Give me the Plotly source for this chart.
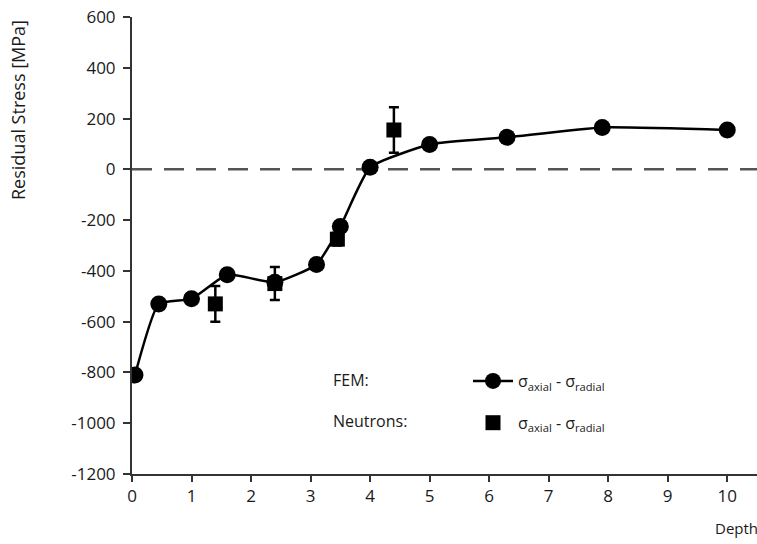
import plotly.graph_objects as go

# FEM data (circles)
fem_depth = [0.05, 0.45, 1.0, 1.6, 2.4, 3.1, 3.5, 4.0, 5.0, 6.3, 7.9, 10.0]
fem_stress = [-810, -530, -510, -415, -445, -375, -225, 8, 98, 126, 165, 155]

# Neutron data (squares) with error bars
neu_depth = [1.4, 2.4, 3.45, 4.4]
neu_stress = [-530, -450, -275, 155]
neu_err = [70, 65, 25, 90]

x_ticks = [0, 1, 2, 3, 4, 5, 6, 7, 8, 9, 10]
y_ticks = [600, 400, 200, 0, -200, -400, -600, -800, -1000, -1200]
y_tick_text = ["600", "400", "200", "0", "-200", "-400", "-600", "-800", "-1000", "-1200"]

FONT = "Open Sans"
INK = "#1a1a1a"

W, H = 757, 544
ml, mr, mt, mb = 132, 0, 17, 70
pw, ph = W - ml - mr, H - mt - mb


def px(x, y):
    return (x - ml) / pw, 1 - (y - mt) / ph


fig = go.Figure()

# zero reference line
fig.add_trace(go.Scatter(
    x=[0, 10.5], y=[0, 0], mode="lines",
    line=dict(color="#555555", width=2.5, dash="20px,12px"),
    showlegend=False, hoverinfo="skip"))

fig.add_trace(go.Scatter(
    x=fem_depth, y=fem_stress, mode="lines+markers",
    line=dict(color="black", width=2.5, shape="spline", smoothing=0.45),
    marker=dict(symbol="circle", size=17, color="black"),
    name="σ<sub>axial</sub> - σ<sub>radial</sub>", legendgroup="a"))

fig.add_trace(go.Scatter(
    x=neu_depth, y=neu_stress, mode="markers",
    marker=dict(symbol="square", size=15, color="black"),
    error_y=dict(type="data", array=neu_err, color="black", thickness=2.5, width=5),
    name="σ<sub>axial</sub> - σ<sub>radial</sub>", legendgroup="b"))

ann = []
for text, x, y, size, angle in [
    ("Residual Stress [MPa]", 18, 110, 18, -90),
    ("FEM:", 351, 380, 16, 0),
    ("Neutrons:", 370, 421, 16, 0),
    ("Depth", 736, 528, 15, 0),
]:
    xp, yp = px(x, y)
    ann.append(dict(text=text, x=xp, y=yp, xref="paper", yref="paper",
                    xanchor="center", yanchor="middle", showarrow=False,
                    textangle=angle, font=dict(size=size, color=INK, weight=500)))

lx, ly = px(468, 364)
fig.update_layout(
    width=W, height=H,
    margin=dict(l=ml, r=mr, t=mt, b=mb),
    paper_bgcolor="white", plot_bgcolor="white",
    font=dict(family=FONT, size=16, color=INK),
    legend=dict(x=lx, y=ly, xanchor="left", yanchor="top",
                bgcolor="rgba(0,0,0,0)", tracegroupgap=18,
                font=dict(size=16, color=INK, weight=500), itemwidth=40),
    annotations=ann,
)

fig.update_xaxes(range=[0, 10.5], tickvals=x_ticks, showgrid=False, zeroline=False,
                 showline=True, linecolor="#333333", linewidth=2,
                 ticks="outside", ticklen=6, tickwidth=2, tickcolor="#333333",
                 tickfont=dict(size=17, color=INK, weight=500))
fig.update_yaxes(range=[-1200, 600], tickvals=y_ticks, ticktext=y_tick_text,
                 showgrid=False, zeroline=False,
                 showline=True, linecolor="#333333", linewidth=2,
                 ticks="outside", ticklen=7, tickwidth=2, tickcolor="#333333",
                 ticklabelstandoff=4,
                 tickfont=dict(size=17, color=INK, weight=500))

fig.write_html("out.html")
